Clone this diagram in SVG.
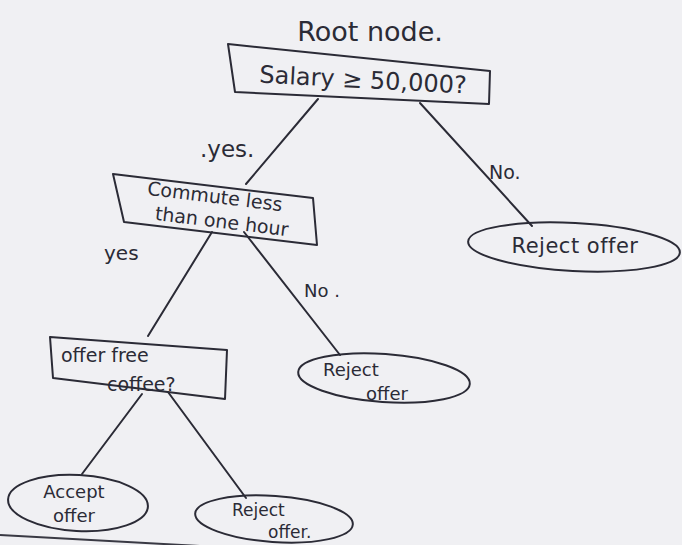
<svg xmlns="http://www.w3.org/2000/svg" width="682" height="545" viewBox="0 0 682 545">
  <style>
    .ink { fill: none; stroke: #2b2b36; stroke-width: 2; stroke-linejoin: round; stroke-linecap: round; }
    .lbl { font-family: "DejaVu Sans", "Liberation Sans", sans-serif; fill: #2b2b36; }
  </style>
  <rect width="682" height="545" fill="#f0f0f3"/>
  <!-- page edge at lower left -->
  <path d="M0 535 L200 546" stroke="#3a3a44" stroke-width="2" fill="none"/>

  <text class="lbl" x="370" y="41" font-size="27" text-anchor="middle">Root node.</text>

  <g id="connectors" class="ink">
    <path d="M318 99 L246 184"/>
    <path d="M420 103 L532 226"/>
    <path d="M212 232 L148 336"/>
    <path d="M244 232 L340 355"/>
    <path d="M142 394 L82 474"/>
    <path d="M168 392 L246 498"/>
  </g>

  <g id="edge-labels">
    <text class="lbl" x="200" y="157" font-size="23">.yes.</text>
    <text class="lbl" x="489" y="179" font-size="19">No.</text>
    <text class="lbl" x="104" y="260" font-size="20">yes</text>
    <text class="lbl" x="304" y="297" font-size="18">No .</text>
  </g>

  <g id="root">
    <polygon class="ink" points="228,44 490,71 489,104 235,92"/>
    <text class="lbl" x="363" y="88" font-size="24" text-anchor="middle" transform="rotate(3 363 80)">Salary ≥ 50,000?</text>
  </g>

  <g id="commute">
    <polygon class="ink" points="113,174 313,198 317,245 124,222"/>
    <text class="lbl" x="215" y="203" font-size="19" text-anchor="middle" transform="rotate(7 215 196)">Commute less</text>
    <text class="lbl" x="222" y="228" font-size="19" text-anchor="middle" transform="rotate(7 222 220)">than one hour</text>
  </g>

  <g id="reject-1">
    <ellipse class="ink" cx="574" cy="247" rx="106" ry="24" transform="rotate(3 574 247)"/>
    <text class="lbl" x="575" y="253" font-size="21" text-anchor="middle" letter-spacing="0.5">Reject  offer</text>
  </g>

  <g id="coffee">
    <polygon class="ink" points="50,337 227,350 225,399 53,378"/>
    <text class="lbl" x="61" y="362" font-size="19">offer free</text>
    <text class="lbl" x="107" y="391" font-size="19">coffee?</text>
  </g>

  <g id="reject-2">
    <ellipse class="ink" cx="384" cy="378" rx="86" ry="24" transform="rotate(4 384 378)"/>
    <text class="lbl" x="323" y="376" font-size="18">Reject</text>
    <text class="lbl" x="366" y="400" font-size="18">offer</text>
  </g>

  <g id="accept">
    <ellipse class="ink" cx="78" cy="503" rx="70" ry="28" transform="rotate(3 78 503)"/>
    <text class="lbl" x="74" y="498" font-size="18" text-anchor="middle">Accept</text>
    <text class="lbl" x="74" y="522" font-size="18" text-anchor="middle">offer</text>
  </g>

  <g id="reject-3">
    <ellipse class="ink" cx="274" cy="519" rx="79" ry="23" transform="rotate(4 274 519)"/>
    <text class="lbl" x="232" y="516" font-size="17">Reject</text>
    <text class="lbl" x="268" y="538" font-size="17">offer.</text>
  </g>
</svg>
